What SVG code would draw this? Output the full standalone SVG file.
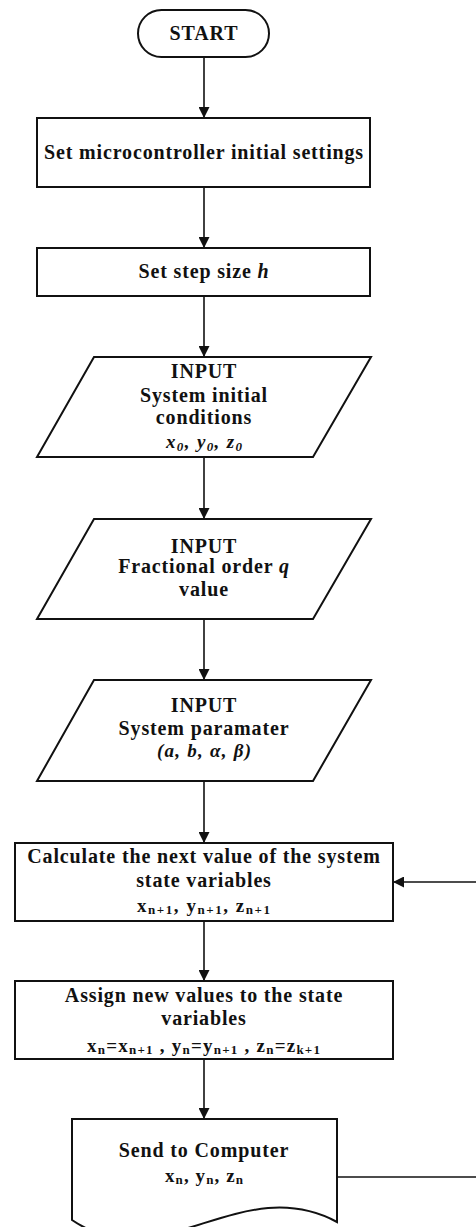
<svg xmlns="http://www.w3.org/2000/svg" width="476" height="1227" viewBox="0 0 476 1227">
  <style>
    .shape { fill: #fff; stroke: #111; stroke-width: 2; }
    .conn { fill: none; stroke: #111; stroke-width: 1.6; }
    .t { font-family: "Liberation Serif", "Times New Roman", serif; font-weight: bold; font-size: 20px; letter-spacing: 0.85px; fill: #111; text-anchor: middle; }
    .m { font-family: "Liberation Serif", "Times New Roman", serif; font-weight: bold; font-size: 19px; fill: #111; }
    .it { font-style: italic; }
    .sub { font-size: 13px; }
  </style>
  <defs>
    <marker id="arrow" markerUnits="userSpaceOnUse" markerWidth="11" markerHeight="11" refX="11" refY="5.5" orient="auto">
      <path d="M0,0 L11,5.5 L0,11 Z" fill="#111"/>
    </marker>
  </defs>

  <rect width="476" height="1227" fill="#fff"/>

  <!-- connectors -->
  <g id="connectors">
    <line class="conn" x1="204" y1="57" x2="204" y2="118" marker-end="url(#arrow)"/>
    <line class="conn" x1="204" y1="187" x2="204" y2="248" marker-end="url(#arrow)"/>
    <line class="conn" x1="204" y1="296" x2="204" y2="357" marker-end="url(#arrow)"/>
    <line class="conn" x1="204" y1="457" x2="204" y2="519" marker-end="url(#arrow)"/>
    <line class="conn" x1="204" y1="619" x2="204" y2="680" marker-end="url(#arrow)"/>
    <line class="conn" x1="204" y1="781" x2="204" y2="843" marker-end="url(#arrow)"/>
    <line class="conn" x1="204" y1="921" x2="204" y2="981" marker-end="url(#arrow)"/>
    <line class="conn" x1="204" y1="1059" x2="204" y2="1119" marker-end="url(#arrow)"/>
    <!-- loop back from the output document to the calculation step -->
    <line class="conn" x1="337" y1="1177" x2="476" y2="1177"/>
    <line class="conn" x1="476" y1="882" x2="393" y2="882" marker-end="url(#arrow)"/>
  </g>

  <g id="start">
    <rect class="shape" x="138" y="10" width="131" height="47" rx="23.5"/>
    <text class="t" x="204" y="40">START</text>
  </g>

  <g id="init-settings">
    <rect class="shape" x="37" y="118" width="333" height="69"/>
    <text class="t" x="204" y="159">Set microcontroller initial settings</text>
  </g>

  <g id="step-size">
    <rect class="shape" x="37" y="248" width="333" height="48"/>
    <text class="t" x="204" y="278">Set step size <tspan class="it">h</tspan></text>
  </g>

  <g id="input-conditions">
    <polygon class="shape" points="94,357 371,357 313,457 37,457"/>
    <text class="t" x="204" y="378">INPUT</text>
    <text class="t" x="204" y="402">System initial</text>
    <text class="t" x="204" y="424">conditions</text>
    <text class="m it" x="166" y="448" textLength="76" lengthAdjust="spacing">x<tspan class="sub" dy="3">0</tspan><tspan dy="-3">, y</tspan><tspan class="sub" dy="3">0</tspan><tspan dy="-3">, z</tspan><tspan class="sub" dy="3">0</tspan></text>
  </g>

  <g id="input-order">
    <polygon class="shape" points="94,519 371,519 313,619 37,619"/>
    <text class="t" x="204" y="553">INPUT</text>
    <text class="t" x="204" y="573">Fractional order <tspan class="it">q</tspan></text>
    <text class="t" x="204" y="596">value</text>
  </g>

  <g id="input-parameters">
    <polygon class="shape" points="94,680 371,680 313,781 37,781"/>
    <text class="t" x="204" y="712">INPUT</text>
    <text class="t" x="204" y="735">System paramater</text>
    <text class="m it" x="157" y="757" textLength="94" lengthAdjust="spacing">(a, b, α, β)</text>
  </g>

  <g id="calculate">
    <rect class="shape" x="15" y="843" width="378" height="78"/>
    <text class="t" x="204" y="863">Calculate the next value of the system</text>
    <text class="t" x="204" y="887">state variables</text>
    <text class="m" x="137" y="912" textLength="133" lengthAdjust="spacing">x<tspan class="sub" dy="2">n+1</tspan><tspan dy="-2">,  y</tspan><tspan class="sub" dy="2">n+1</tspan><tspan dy="-2">,  z</tspan><tspan class="sub" dy="2">n+1</tspan></text>
  </g>

  <g id="assign">
    <rect class="shape" x="15" y="981" width="378" height="78"/>
    <text class="t" x="204" y="1002">Assign new values to the state</text>
    <text class="t" x="204" y="1025">variables</text>
    <text class="m" x="87" y="1052" textLength="233" lengthAdjust="spacing">x<tspan class="sub" dy="2">n</tspan><tspan dy="-2">=x</tspan><tspan class="sub" dy="2">n+1</tspan><tspan dy="-2"> ,  y</tspan><tspan class="sub" dy="2">n</tspan><tspan dy="-2">=y</tspan><tspan class="sub" dy="2">n+1</tspan><tspan dy="-2"> ,  z</tspan><tspan class="sub" dy="2">n</tspan><tspan dy="-2">=z</tspan><tspan class="sub" dy="2">k+1</tspan></text>
  </g>

  <g id="send-to-computer">
    <path class="shape" d="M72,1119 L337,1119 L337,1222 C240,1170 160,1280 72,1220 Z"/>
    <text class="t" x="204" y="1157">Send to Computer</text>
    <text class="m" x="165" y="1182" textLength="78" lengthAdjust="spacing">x<tspan class="sub" dy="2">n</tspan><tspan dy="-2">, y</tspan><tspan class="sub" dy="2">n</tspan><tspan dy="-2">, z</tspan><tspan class="sub" dy="2">n</tspan></text>
  </g>
</svg>
